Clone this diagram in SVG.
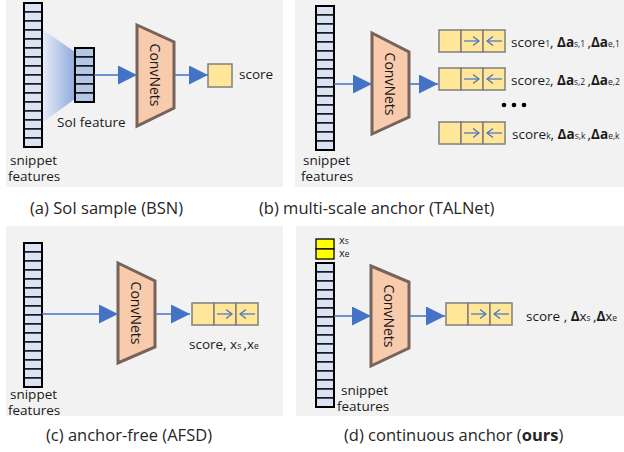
<svg xmlns="http://www.w3.org/2000/svg" xmlns:xlink="http://www.w3.org/1999/xlink" width="624" height="452" viewBox="0 0 624 452">
<style>
.panel{fill:#f2f2f2}
.cell{fill:#dae3f3;stroke:#000;stroke-width:1.3}
.soi{fill:#b4c7e7;stroke:#000;stroke-width:1.3}
.ycell{fill:#ffff00;stroke:#000;stroke-width:1.3}
.conv{fill:#f8cbad;stroke:#76645c;stroke-width:3;stroke-linejoin:miter}
.out{fill:#ffe699;stroke:#7f7f7f;stroke-width:1.5}
.flow{stroke:#4472c4;stroke-width:1.6;fill:none}
.small{stroke:#4472c4;stroke-width:1.2;fill:none}
text{font-family:"Open Sans","Noto Sans","DejaVu Sans",sans-serif;fill:#1a1a1a}
.lbl{font-size:13.5px}
.cap{font-size:16.5px;fill:#262626}
.conv-t{font-size:14px}
.sub{font-size:8.5px}
.b{font-weight:bold}
</style>
<defs>
<marker id="tri" markerUnits="userSpaceOnUse" markerWidth="19" markerHeight="19" refX="19" refY="9.5" orient="auto">
<path d="M0,0 L19,9.5 L0,19 Z" fill="#4472c4"/>
</marker>
<marker id="chev" markerUnits="userSpaceOnUse" markerWidth="8" markerHeight="10" refX="6.5" refY="5" orient="auto">
<path d="M0.5,0.5 L6.5,5 L0.5,9.5" fill="none" stroke="#4472c4" stroke-width="1.2"/>
</marker>
<linearGradient id="grad" x1="0" y1="0" x2="1" y2="0">
<stop offset="0" stop-color="#e6ecf7"/>
<stop offset="1" stop-color="#8faadc"/>
</linearGradient>
<g id="col16">
<rect class="cell" x="0" y="0" width="18" height="9"/><rect class="cell" x="0" y="9" width="18" height="9"/>
<rect class="cell" x="0" y="18" width="18" height="9"/><rect class="cell" x="0" y="27" width="18" height="9"/>
<rect class="cell" x="0" y="36" width="18" height="9"/><rect class="cell" x="0" y="45" width="18" height="9"/>
<rect class="cell" x="0" y="54" width="18" height="9"/><rect class="cell" x="0" y="63" width="18" height="9"/>
<rect class="cell" x="0" y="72" width="18" height="9"/><rect class="cell" x="0" y="81" width="18" height="9"/>
<rect class="cell" x="0" y="90" width="18" height="9"/><rect class="cell" x="0" y="99" width="18" height="9"/>
<rect class="cell" x="0" y="108" width="18" height="9"/><rect class="cell" x="0" y="117" width="18" height="9"/>
<rect class="cell" x="0" y="126" width="18" height="9"/><rect class="cell" x="0" y="135" width="18" height="9"/>
<rect x="0" y="0" width="18" height="144" fill="none" stroke="#000" stroke-width="2"/>
</g>
<g id="out3">
<rect class="out" x="0" y="0" width="22" height="22"/>
<rect class="out" x="22" y="0" width="22" height="22"/>
<rect class="out" x="44" y="0" width="22" height="22"/>
<line class="small" x1="25" y1="11" x2="40" y2="11" marker-end="url(#chev)"/>
<line class="small" x1="63" y1="11" x2="48" y2="11" marker-end="url(#chev)"/>
</g>
</defs>

<rect class="panel" x="6" y="0" width="277" height="187"/>
<rect class="panel" x="295" y="0" width="329" height="187"/>
<rect class="panel" x="6" y="226" width="277" height="190"/>
<rect class="panel" x="296" y="226" width="328" height="190"/>

<!-- Panel (a) -->
<g id="a-snippets"><use xlink:href="#col16" x="24" y="3"/>
<text class="lbl" x="10" y="165">snippet</text><text class="lbl" x="8" y="181">features</text></g>
<g id="a-soi">
<polygon points="43,30 75,52 75,99 43,122" fill="url(#grad)"/>
<rect class="soi" x="75" y="48" width="19" height="9"/><rect class="soi" x="75" y="57" width="19" height="9"/>
<rect class="soi" x="75" y="66" width="19" height="9"/><rect class="soi" x="75" y="75" width="19" height="9"/>
<rect class="soi" x="75" y="84" width="19" height="9"/><rect class="soi" x="75" y="93" width="19" height="9"/>
<rect x="75" y="48" width="19" height="54" fill="none" stroke="#000" stroke-width="2"/>
<text class="lbl" x="57" y="127">SoI feature</text></g>
<g id="a-conv"><polygon class="conv" points="137,25 174,42 174,108 137,126"/>
<text class="conv-t" transform="translate(150,75) rotate(90)" text-anchor="middle">ConvNets</text></g>
<g id="a-score"><rect class="out" x="208" y="64" width="24" height="23"/>
<text class="lbl" x="239" y="79">score</text></g>

<!-- Panel (b) -->
<g id="b-snippets"><use xlink:href="#col16" x="316" y="6"/>
<text class="lbl" x="303" y="165">snippet</text><text class="lbl" x="301" y="181">features</text></g>
<g id="b-conv"><polygon class="conv" points="372,33 409,52 409,117 372,134"/>
<text class="conv-t" transform="translate(385,84) rotate(90)" text-anchor="middle">ConvNets</text></g>
<g id="b-out1"><use xlink:href="#out3" x="439" y="30"/>
<text class="lbl" x="511" y="47">score<tspan class="sub">1</tspan>, <tspan class="b">Δa</tspan><tspan class="sub">s,1 </tspan>,<tspan class="b">Δa</tspan><tspan class="sub">e,1</tspan></text></g>
<g id="b-out2"><use xlink:href="#out3" x="439" y="68"/>
<text class="lbl" x="511" y="85">score<tspan class="sub">2</tspan>, <tspan class="b">Δa</tspan><tspan class="sub">s,2 </tspan>,<tspan class="b">Δa</tspan><tspan class="sub">e,2</tspan></text></g>
<g id="b-dots"><circle cx="504" cy="105" r="2.3" fill="#000"/><circle cx="514" cy="105" r="2.3" fill="#000"/><circle cx="524" cy="105" r="2.3" fill="#000"/></g>
<g id="b-outk"><use xlink:href="#out3" x="439" y="122"/>
<text class="lbl" x="512" y="139">score<tspan class="sub">k</tspan>, <tspan class="b">Δa</tspan><tspan class="sub">s,k </tspan>,<tspan class="b">Δa</tspan><tspan class="sub">e,k</tspan></text></g>

<!-- Panel (c) -->
<g id="c-snippets"><use xlink:href="#col16" x="24" y="243"/>
<text class="lbl" x="10" y="399">snippet</text><text class="lbl" x="8" y="415">features</text></g>
<g id="c-conv"><polygon class="conv" points="118,263 155,281 155,347 118,363"/>
<text class="conv-t" transform="translate(131,313) rotate(90)" text-anchor="middle">ConvNets</text></g>
<g id="c-out"><use xlink:href="#out3" x="192" y="303"/>
<text class="lbl" x="189" y="349">score, x<tspan class="sub">s </tspan>,x<tspan class="sub">e</tspan></text></g>

<!-- Panel (d) -->
<g id="d-anchor"><rect class="ycell" x="316" y="239" width="18" height="10"/><rect class="ycell" x="316" y="249" width="18" height="10"/>
<text style="font-size:11px" x="339" y="244">x<tspan class="sub">s</tspan></text>
<text style="font-size:11px" x="339" y="257">x<tspan class="sub">e</tspan></text></g>
<g id="d-snippets"><use xlink:href="#col16" x="316" y="263"/>
<text class="lbl" x="341" y="395">snippet</text><text class="lbl" x="337" y="411">features</text></g>
<g id="d-conv"><polygon class="conv" points="371,266 409,282 409,348 371,366"/>
<text class="conv-t" transform="translate(384,316) rotate(90)" text-anchor="middle">ConvNets</text></g>
<g id="d-out"><use xlink:href="#out3" x="446" y="303"/>
<text class="lbl" x="526" y="321">score , <tspan class="b">Δ</tspan>x<tspan class="sub">s </tspan>,<tspan class="b">Δ</tspan>x<tspan class="sub">e</tspan></text></g>

<!-- connectors -->
<g id="connectors">
<line class="flow" x1="94" y1="75" x2="137" y2="75" marker-end="url(#tri)"/>
<line class="flow" x1="174" y1="75" x2="208" y2="75" marker-end="url(#tri)"/>
<line class="flow" x1="334" y1="84" x2="372" y2="84" marker-end="url(#tri)"/>
<line class="flow" x1="409" y1="84" x2="438" y2="84" marker-end="url(#tri)"/>
<line class="flow" x1="42" y1="314" x2="118" y2="314" marker-end="url(#tri)"/>
<line class="flow" x1="155" y1="314" x2="190" y2="314" marker-end="url(#tri)"/>
<line class="flow" x1="334" y1="316" x2="371" y2="316" marker-end="url(#tri)"/>
<line class="flow" x1="409" y1="316" x2="445" y2="316" marker-end="url(#tri)"/>
</g>

<!-- captions -->
<text class="cap" x="30" y="214">(a) SoI sample (BSN)</text>
<text class="cap" x="259" y="214">(b) multi-scale anchor (TALNet)</text>
<text class="cap" x="46" y="441">(c) anchor-free (AFSD)</text>
<text class="cap" x="344" y="441">(d) continuous anchor (<tspan class="b">ours</tspan>)</text>
</svg>
